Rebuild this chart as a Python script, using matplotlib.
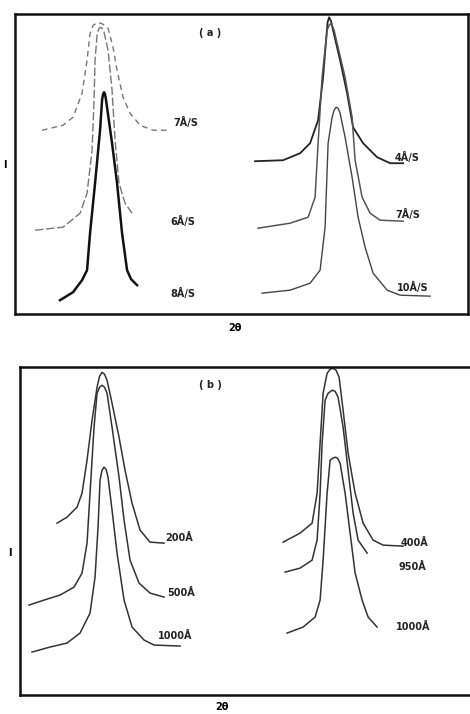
import numpy as np
import matplotlib
matplotlib.use("Agg")
import matplotlib.pyplot as plt

# (a) deposition rate series, x = 2theta (arb.), y = intensity (arb.)
a_left_7_x = [27, 48, 58, 67, 72, 75, 78, 83, 88, 93, 98, 102, 108, 115, 125, 138, 152]
a_left_7_y = [184, 189, 197, 221, 254, 281, 289, 292, 290, 286, 267, 244, 217, 201, 189, 184, 184]
a_left_6_x = [20, 48, 65, 72, 77, 79, 80, 82, 83.5, 85, 87, 89, 93, 97, 100, 104, 110, 117]
a_left_6_y = [84, 87, 101, 121, 164, 214, 254, 279, 285, 287, 286, 282, 264, 224, 174, 131, 111, 101]
a_left_8_x = [45, 58, 67, 72, 75, 80, 85, 87, 88, 89, 90, 91, 97, 102, 107, 112, 116, 122]
a_left_8_y = [14, 22, 34, 44, 81, 131, 184, 214, 220, 222, 220, 214, 171, 131, 81, 44, 35, 29]

a_right_4_x = [240, 268, 285, 295, 303, 308, 311, 312.5, 314, 316, 318, 325, 332, 338, 348, 362, 375, 388]
a_right_4_y = [153, 154, 161, 171, 194, 237, 274, 292, 297, 293, 284, 254, 221, 187, 171, 157, 151, 151]
a_right_7_x = [243, 275, 293, 300, 303, 307, 312, 314, 316, 319, 322, 330, 337, 340, 347, 355, 365, 388]
a_right_7_y = [86, 91, 97, 117, 171, 237, 284, 289, 291, 284, 271, 237, 197, 154, 117, 101, 94, 93]
a_right_10_x = [247, 275, 295, 305, 310, 313, 317, 319, 321, 323, 325, 330, 337, 343, 350, 358, 372, 385, 415]
a_right_10_y = [21, 24, 31, 44, 87, 171, 197, 204, 207, 206, 201, 177, 137, 97, 67, 41, 24, 19, 18]

# (b) thickness series
b_left_200_x = [37, 47, 57, 62, 67, 72, 77, 79.5, 82, 84.5, 87, 92, 99, 105, 112, 120, 130, 144]
b_left_200_y = [172, 178, 188, 202, 235, 275, 308, 319, 323, 321, 315, 292, 258, 225, 192, 165, 153, 152]
b_left_500_x = [9, 24, 40, 54, 62, 67, 70, 74, 77, 79.5, 82, 84.5, 87, 92, 99, 104, 110, 119, 130, 144]
b_left_500_y = [90, 95, 100, 108, 122, 152, 202, 268, 302, 308, 310, 308, 302, 268, 218, 175, 135, 112, 102, 98]
b_left_1000_x = [12, 30, 47, 60, 70, 75, 78, 80, 82, 84, 86, 88, 92, 97, 104, 112, 124, 134, 160]
b_left_1000_y = [43, 48, 52, 62, 82, 118, 168, 215, 225, 228, 226, 218, 185, 142, 95, 68, 55, 50, 49]

b_right_400_x = [263, 280, 292, 297, 300, 303, 307, 310, 313, 316, 319, 323, 328, 335, 343, 353, 363, 383]
b_right_400_y = [153, 162, 172, 202, 252, 302, 322, 326, 327, 325, 318, 285, 242, 202, 172, 155, 150, 149]
b_right_950_x = [265, 280, 292, 297, 300, 302, 305, 308, 312, 315, 318, 323, 328, 333, 338, 347]
b_right_950_y = [123, 127, 135, 155, 202, 252, 295, 302, 305, 304, 298, 268, 225, 182, 155, 142]
b_right_1000_x = [267, 283, 295, 300, 303, 307, 310, 312.5, 315, 317.5, 320, 325, 330, 335, 342, 348, 357]
b_right_1000_y = [62, 68, 78, 95, 135, 202, 235, 237, 238, 237, 232, 202, 162, 122, 95, 78, 68]

labels_a = ["7Å/S", "6Å/S", "8Å/S", "4Å/S", "7Å/S", "10Å/S"]
labels_b = ["200Å", "500Å", "1000Å", "400Å", "950Å", "1000Å"]

fig = plt.figure(figsize=(4.7, 7.14), dpi=100)

ax1 = fig.add_axes([0.032, 0.560, 0.964, 0.420])
ax1.set_xlim(0, 453)
ax1.set_ylim(0, 300)
ax1.plot(a_left_7_x, a_left_7_y, color="#777777", lw=1.0, ls=(0, (4, 3)))
ax1.plot(a_left_6_x, a_left_6_y, color="#777777", lw=1.0, ls=(0, (6, 2)))
ax1.plot(a_left_8_x, a_left_8_y, color="#111111", lw=1.8)
ax1.plot(a_right_4_x, a_right_4_y, color="#222222", lw=1.3)
ax1.plot(a_right_7_x, a_right_7_y, color="#555555", lw=1.1)
ax1.plot(a_right_10_x, a_right_10_y, color="#444444", lw=1.0)
pos_a = [(158, 192), (155, 93), (155, 21), (380, 157), (380, 100), (382, 27)]
for lab, (x, y) in zip(labels_a, pos_a):
    ax1.text(x, y, lab, fontsize=7, fontweight="bold", color="#222222", va="center")
ax1.text(195, 281, "( a )", fontsize=7, fontweight="bold", color="#222222", ha="center", va="center")

ax2 = fig.add_axes([0.0426, 0.0266, 0.979, 0.459])
ax2.set_xlim(0, 460)
ax2.set_ylim(0, 328)
for xs, ys in [(b_left_200_x, b_left_200_y), (b_left_500_x, b_left_500_y),
               (b_left_1000_x, b_left_1000_y), (b_right_400_x, b_right_400_y),
               (b_right_950_x, b_right_950_y), (b_right_1000_x, b_right_1000_y)]:
    ax2.plot(xs, ys, color="#333333", lw=1.1)
pos_b = [(145, 157), (147, 102), (138, 59), (380, 152), (378, 128), (376, 68)]
for lab, (x, y) in zip(labels_b, pos_b):
    ax2.text(x, y, lab, fontsize=7, fontweight="bold", color="#222222", va="center")
ax2.text(190, 310, "( b )", fontsize=7, fontweight="bold", color="#222222", ha="center", va="center")

for ax in (ax1, ax2):
    ax.set_xticks([])
    ax.set_yticks([])
    for s in ax.spines.values():
        s.set_linewidth(1.8)
        s.set_color("#111111")

fig.text(5 / 470, 1 - 165 / 714, "I", fontsize=7, fontweight="bold", ha="center", va="center")
fig.text(10 / 470, 1 - 553 / 714, "I", fontsize=7, fontweight="bold", ha="center", va="center")
fig.text(235 / 470, 1 - 328 / 714, "2θ", fontsize=7, fontweight="bold", ha="center", va="center")
fig.text(222 / 470, 1 - 707 / 714, "2θ", fontsize=7, fontweight="bold", ha="center", va="center")

fig.savefig("out.png", dpi=100)
